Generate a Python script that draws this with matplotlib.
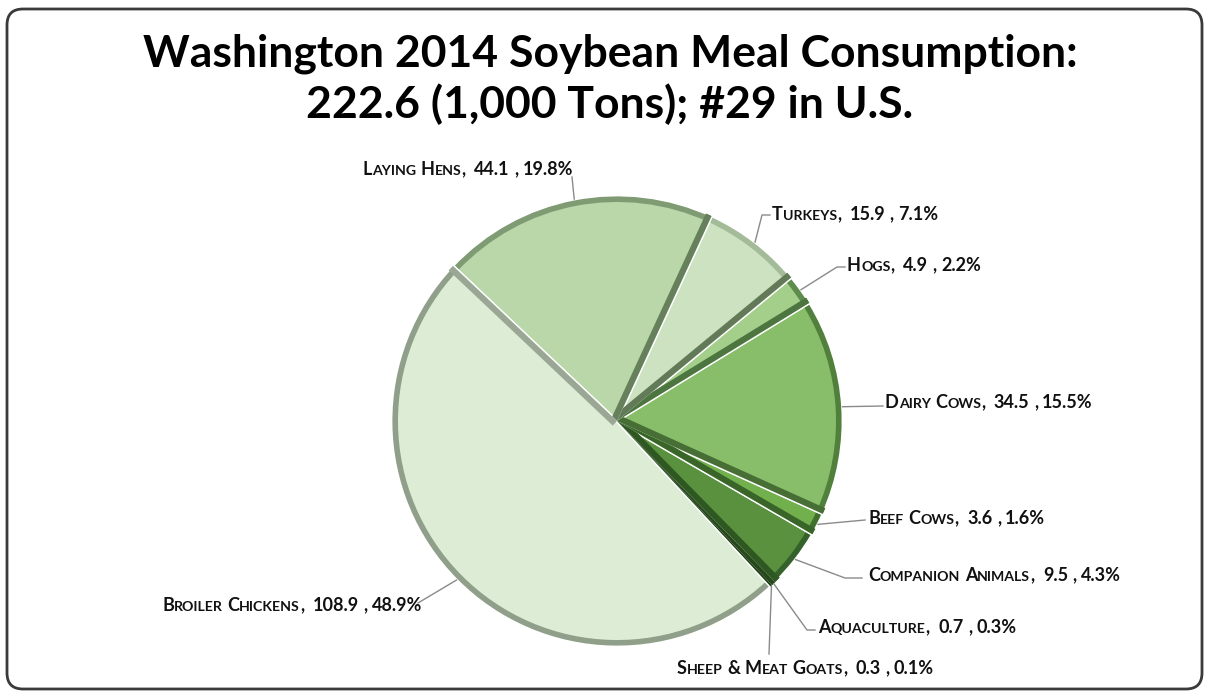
import matplotlib
matplotlib.use("Agg")
import matplotlib.pyplot as plt
from matplotlib.patches import FancyBboxPatch
import numpy as np

# soybean meal use by animal type, 1,000 tons
categories = ["Laying Hens", "Turkeys", "Hogs", "Dairy Cows", "Beef Cows",
              "Companion Animals", "Aquaculture", "Sheep & Meat Goats",
              "Broiler Chickens"]
values = [44.1, 15.9, 4.9, 34.5, 3.6, 9.5, 0.7, 0.3, 108.9]
shares = ["19.8%", "7.1%", "2.2%", "15.5%", "1.6%", "4.3%", "0.3%", "0.1%",
          "48.9%"]
title_lines = ["Washington 2014 Soybean Meal Consumption:",
               "222.6 (1,000 Tons); #29 in U.S."]

fills = ["#b9d7a9", "#cde2c1", "#a3cf8b", "#88be6a", "#72b04e",
         "#5a913e", "#3e7a2a", "#2f6420", "#dcecd5"]
rims = ["#7f9b73", "#a3bb99", "#5e8c4c", "#517f3c", "#41702e",
        "#35622a", "#2a521c", "#1f4315", "#909f8a"]
sides = ["#66805c", "#627a58", "#4d7540", "#476f35", "#3a6529",
         "#2e5722", "#25491a", "#1b3b12", "#9aa795"]

plt.rcParams['font.family'] = ['Lato', 'DejaVu Sans']

W, H = 1209, 696
fig = plt.figure(figsize=(W / 100, H / 100), dpi=100)
ax = fig.add_axes([0, 0, 1, 1])

cx, cy, R = 617, H - 421, 226
start = 136.6

# outer rim, then the lighter face on top
wedges, _ = ax.pie(values, colors=rims, radius=R, center=(cx, cy),
                   startangle=start, counterclock=False,
                   wedgeprops=dict(linewidth=0))
ax.pie(values, colors=fills, radius=R - 7, center=(cx, cy),
       startangle=start, counterclock=False,
       wedgeprops=dict(linewidth=0))

# shaded side along the trailing edge of every slice
for w, c in zip(wedges, sides):
    a = np.deg2rad(w.theta1)
    ln, = ax.plot([cx, cx + R * np.cos(a)], [cy, cy + R * np.sin(a)],
                  color=c, lw=9, solid_capstyle="butt")
    ln.set_clip_path(w)

# white gaps between slices
ax.pie(values, radius=R, center=(cx, cy), startangle=start,
       counterclock=False,
       wedgeprops=dict(fill=False, edgecolor="white", linewidth=2))

ax.set_xlim(0, W)
ax.set_ylim(0, H)
ax.set_aspect("equal")
ax.axis("off")

# frame around the chart
ax.add_patch(FancyBboxPatch((7, 7), W - 14, H - 16,
                            boxstyle="round,pad=0,rounding_size=16",
                            fc="none", ec="#3a3a3a", lw=2))

ax.text(610, H - 67, title_lines[0], ha="center", va="baseline",
        fontsize=32, fontweight="bold")
ax.text(610, H - 118, title_lines[1], ha="center", va="baseline",
        fontsize=32, fontweight="bold")

renderer = fig.canvas.get_renderer()


def caps_label(x, y, name, tail, size=13):
    """write name in small caps followed by the numbers"""
    runs = []
    for ch in name:
        if ch == " ":
            runs.append([" ", size])
            continue
        sz = size * 0.78 if ch.islower() else size
        if runs and runs[-1][0] != " " and runs[-1][1] == sz:
            runs[-1][0] += ch.upper()
        else:
            runs.append([ch.upper(), sz])
    runs.append([",", size])
    runs.append([" ", size])
    runs.append([" ", size])
    for part in tail.split(" "):
        runs.append([part, size])
        runs.append([" ", size])
    pos = x
    for txt, sz in runs[:-1]:
        if txt == " ":
            pos += sz * 100 / 72 * 0.24
            continue
        t = ax.text(pos, y, txt, fontsize=sz, fontweight="bold",
                    va="baseline", ha="left", color="#111111")
        pos += t.get_window_extent(renderer).width


# label anchor (left of text, baseline) and leader path per slice
label_pos = [(363, 175), (772, 220), (847, 271), (885, 408), (868, 524),
             (868, 581), (818, 633), (677, 674), (162, 611)]
leader_pts = [[(572, 177)], [(762, 215), (770, 215)], [(837, 267), (845, 267)],
              [(883, 406)], [(865, 520)], [(845, 578), (862, 578)],
              [(807, 630), (815, 630)], [(769, 654)], [(418, 603)]]

for i, w in enumerate(wedges):
    mid = np.deg2rad((w.theta1 + w.theta2) / 2)
    px = cx + R * np.cos(mid)
    py = cy + R * np.sin(mid)
    xs = [px] + [p[0] for p in leader_pts[i]]
    ys = [py] + [H - p[1] for p in leader_pts[i]]
    ax.plot(xs, ys, color="#8a8a8a", lw=1)
    lx, ly = label_pos[i]
    caps_label(lx, H - ly, categories[i],
               "{} , {}".format(values[i], shares[i]))

fig.savefig("out.png", dpi=100)
